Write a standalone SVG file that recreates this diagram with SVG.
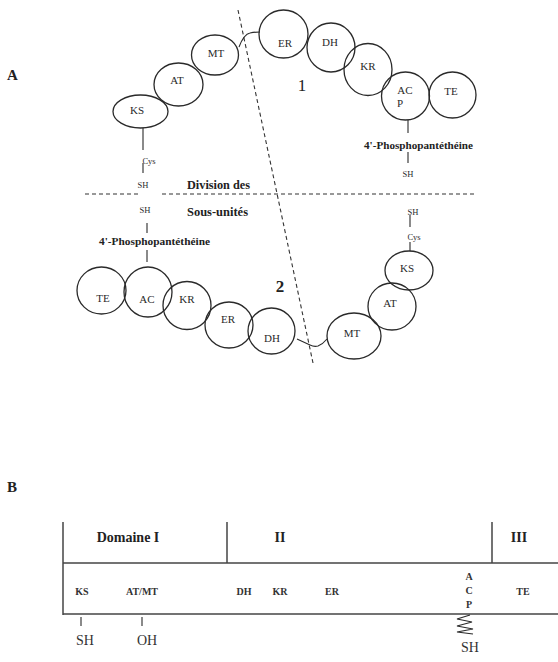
<svg xmlns="http://www.w3.org/2000/svg" width="558" height="662" viewBox="0 0 558 662">
<style>
.bg{fill:#fff}
.dom ellipse{fill:none;stroke:#2a2a2a;stroke-width:1.3}
.lbl{font-family:"Liberation Serif",serif;font-size:11px;fill:#2a2a2a;text-anchor:middle}
.small{font-family:"Liberation Serif",serif;font-size:8.5px;fill:#2a2a2a;text-anchor:middle}
.bold{font-family:"Liberation Serif",serif;font-weight:bold;fill:#222}
.ln{stroke:#2a2a2a;stroke-width:1.1;fill:none}
.dash{stroke:#333;stroke-width:1.1;stroke-dasharray:4 3;fill:none}
.bl{stroke:#444;stroke-width:1.5;fill:none}
.bt{font-family:"Liberation Serif",serif;font-weight:bold;font-size:10px;fill:#333;text-anchor:middle}
.reg{font-family:"Liberation Serif",serif;font-size:14px;fill:#333;text-anchor:middle}
</style>
<rect class="bg" width="558" height="662"/>
<text class="bold" x="7" y="80" font-size="15">A</text>
<text class="bold" x="7" y="492" font-size="15">B</text>

<g id="connectors">
<line class="dash" x1="238" y1="10" x2="313" y2="363"/>
<line class="dash" x1="85" y1="194" x2="138" y2="194"/>
<line class="dash" x1="162" y1="194" x2="475" y2="194"/>
<path class="ln" d="M239,47 Q244,34 250,33 Q255,32 260,32"/>
<path class="ln" d="M297,339 L310,345 Q314,347 318,346 Q323,344 327,339"/>
<line class="ln" x1="143" y1="128" x2="143" y2="150"/>
<line class="ln" x1="143" y1="163" x2="143" y2="173"/>
<line class="ln" x1="408" y1="120" x2="408" y2="133"/>
<line class="ln" x1="408" y1="152" x2="408" y2="163"/>
<line class="ln" x1="147" y1="223" x2="147" y2="233"/>
<line class="ln" x1="147" y1="250" x2="147" y2="262"/>
<line class="ln" x1="410" y1="215" x2="410" y2="227"/>
<line class="ln" x1="410" y1="242" x2="410" y2="251"/>
</g>

<g id="subunit1" class="dom">
<g id="ks1"><ellipse cx="140.5" cy="111.5" rx="27.5" ry="16.5"/><text class="lbl" x="137" y="114">KS</text></g>
<g id="at1"><ellipse cx="178.5" cy="84.5" rx="24.5" ry="21.5"/><text class="lbl" x="177" y="84">AT</text></g>
<g id="mt1"><ellipse cx="215" cy="55" rx="23.5" ry="20"/><text class="lbl" x="216" y="57">MT</text></g>
<g id="er1"><ellipse cx="283.5" cy="34" rx="24.5" ry="24"/><text class="lbl" x="285" y="47">ER</text></g>
<g id="dh1"><ellipse cx="331" cy="47.5" rx="24" ry="24.5"/><text class="lbl" x="330" y="46">DH</text></g>
<g id="kr1"><ellipse cx="368" cy="69.5" rx="24" ry="26"/><text class="lbl" x="368" y="70">KR</text></g>
<g id="acp1"><ellipse cx="405.5" cy="96" rx="24" ry="24"/><text class="lbl" x="405" y="94">AC</text><text class="lbl" x="400" y="107">P</text></g>
<g id="te1"><ellipse cx="452.5" cy="95" rx="23.5" ry="23"/><text class="lbl" x="451" y="95">TE</text></g>
<text x="302" y="91" font-size="17" text-anchor="middle" font-family="Liberation Serif, serif" fill="#222">1</text>
<text class="small" x="149" y="164" font-size="9">Cys</text>
<text class="small" x="143" y="188">SH</text>
<text class="bold" x="364" y="149" font-size="9.5" textLength="109" lengthAdjust="spacingAndGlyphs">4'-Phosphopantéthéine</text>
<text class="small" x="408" y="177">SH</text>
</g>

<g id="division">
<text class="bold" x="187" y="189" font-size="12" textLength="63" lengthAdjust="spacingAndGlyphs">Division des</text>
<text class="bold" x="187" y="216" font-size="12" textLength="61" lengthAdjust="spacingAndGlyphs">Sous-unités</text>
</g>

<g id="subunit2" class="dom">
<text class="small" x="145" y="213">SH</text>
<text class="bold" x="99" y="245" font-size="9.5" textLength="111" lengthAdjust="spacingAndGlyphs">4'-Phosphopantéthéine</text>
<g id="te2"><ellipse cx="101.5" cy="290.5" rx="24.5" ry="23.5"/><text class="lbl" x="103" y="302">TE</text></g>
<g id="ac2"><ellipse cx="148" cy="292" rx="24" ry="25"/><text class="lbl" x="147" y="303">AC</text></g>
<g id="kr2"><ellipse cx="187" cy="305.5" rx="24" ry="24"/><text class="lbl" x="187" y="303">KR</text></g>
<g id="er2"><ellipse cx="229" cy="325" rx="24" ry="23"/><text class="lbl" x="228" y="323">ER</text></g>
<g id="dh2"><ellipse cx="271.5" cy="331" rx="23.5" ry="23"/><text class="lbl" x="272" y="342">DH</text></g>
<g id="mt2"><ellipse cx="354" cy="336" rx="27" ry="23"/><text class="lbl" x="352" y="337">MT</text></g>
<g id="at2"><ellipse cx="392" cy="306.5" rx="24" ry="23.5"/><text class="lbl" x="390" y="307">AT</text></g>
<g id="ks2"><ellipse cx="409" cy="270.5" rx="24" ry="19.5"/><text class="lbl" x="407" y="272">KS</text></g>
<text class="bold" x="280" y="292" font-size="17" text-anchor="middle">2</text>
<text class="small" x="414" y="240" font-size="9">Cys</text>
<text class="small" x="413" y="215">SH</text>
</g>

<g id="partB">
<line class="bl" x1="63" y1="522" x2="63" y2="615"/>
<line class="bl" x1="227" y1="522" x2="227" y2="563" stroke-width="1"/>
<line class="bl" x1="492" y1="522" x2="492" y2="563" stroke-width="1"/>
<line class="bl" x1="63" y1="563" x2="558" y2="563"/>
<line class="bl" x1="63" y1="614" x2="558" y2="614"/>
<text class="bold" x="128" y="542" font-size="14" text-anchor="middle">Domaine I</text>
<text class="bold" x="280" y="542" font-size="14" text-anchor="middle">II</text>
<text class="bold" x="519" y="542" font-size="14" text-anchor="middle">III</text>
<text class="bt" x="82" y="595">KS</text>
<text class="bt" x="142" y="595">AT/MT</text>
<text class="bt" x="244" y="595">DH</text>
<text class="bt" x="280" y="595">KR</text>
<text class="bt" x="332" y="595">ER</text>
<text class="bt" x="469" y="580">A</text>
<text class="bt" x="469" y="594">C</text>
<text class="bt" x="469" y="608">P</text>
<text class="bt" x="523" y="595">TE</text>
<line class="ln" x1="81" y1="617" x2="81" y2="626"/>
<line class="ln" x1="142" y1="617" x2="142" y2="626"/>
<polyline class="ln" points="470,615 457,619 472,622 457,626 473,629 457,632 473,634"/>
<text class="reg" x="85" y="645">SH</text>
<text class="reg" x="147" y="645">OH</text>
<text class="reg" x="470" y="652">SH</text>
</g>
</svg>
